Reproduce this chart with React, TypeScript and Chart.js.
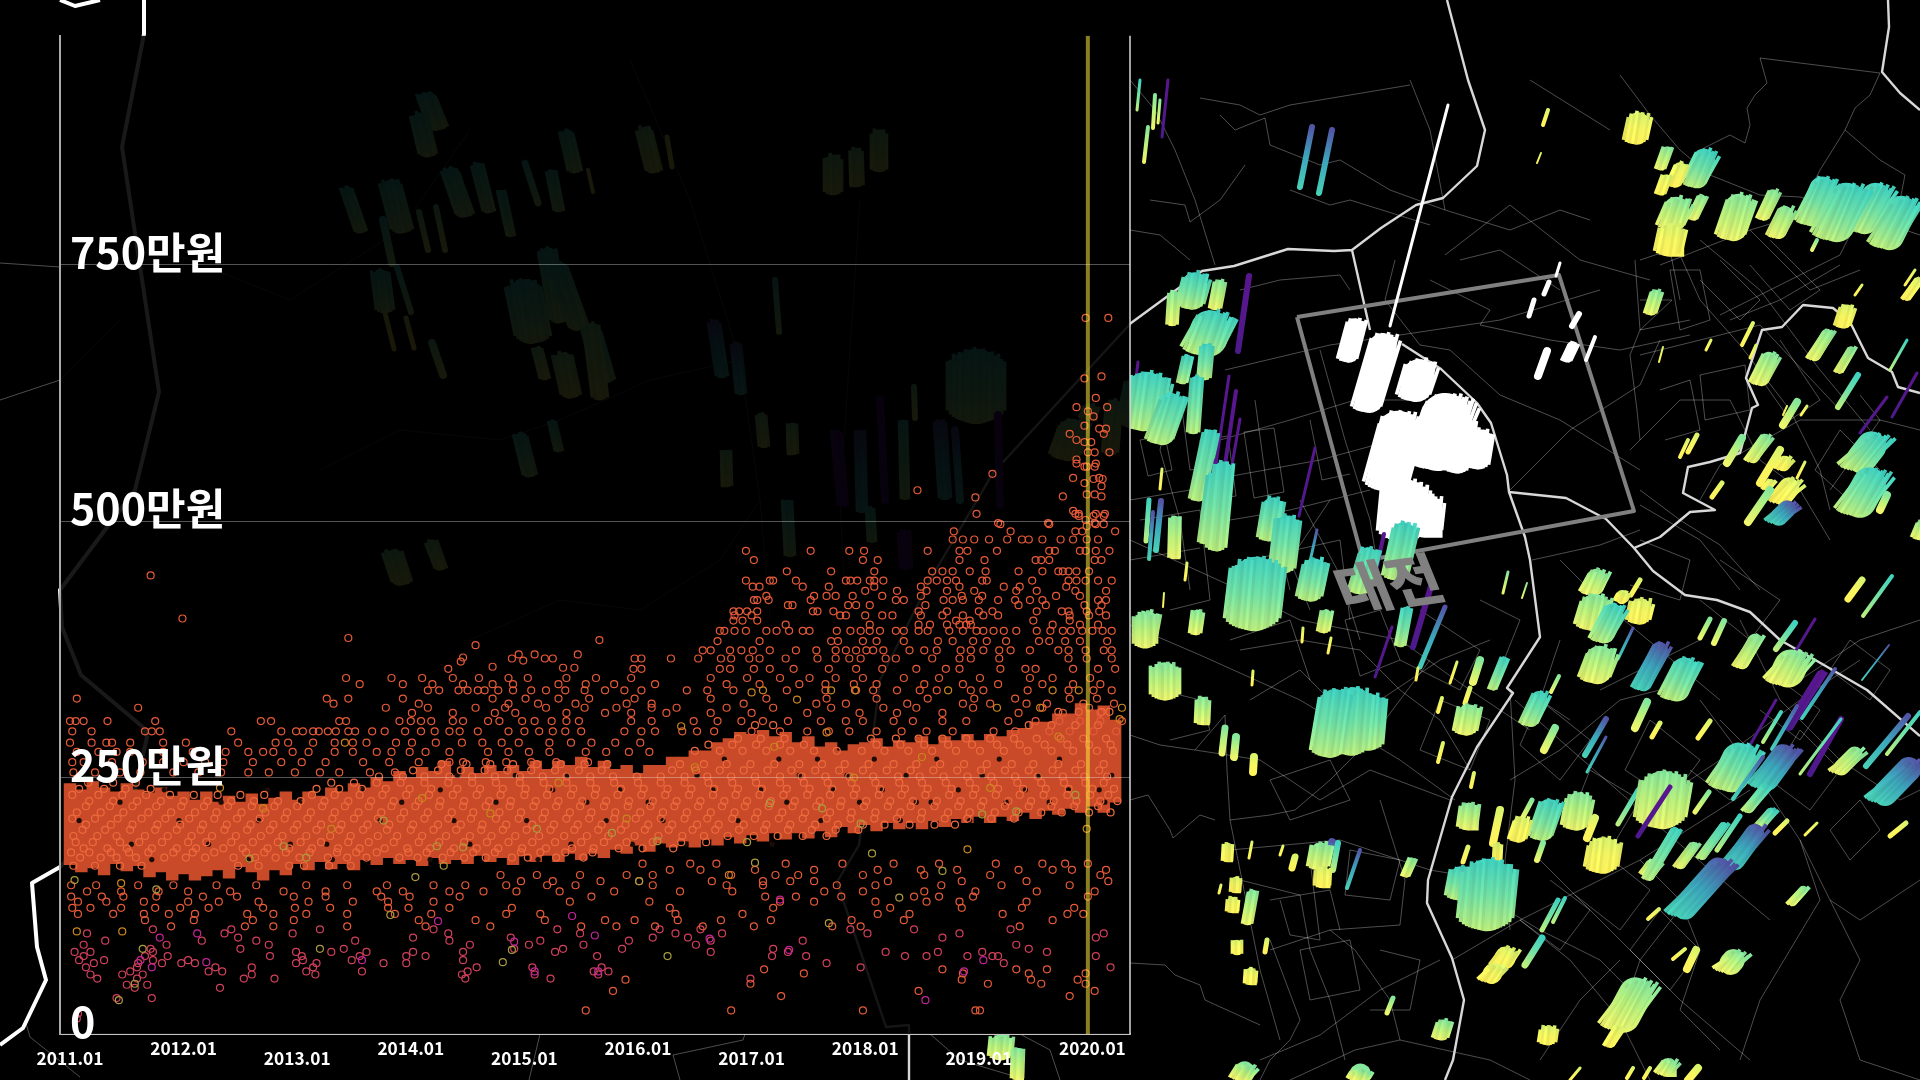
import React, { useEffect, useRef } from "react";
import { Chart, registerables } from "chart.js";

Chart.register(...registerables);

const FONT = '"Noto Sans CJK KR", "Noto Sans", sans-serif';

// ---------- price chart data (x = year, y = 만원 per pyeong) ----------
const xTickYears = [2011, 2012, 2013, 2014, 2015, 2016, 2017, 2018, 2019, 2020];
const xTickLabels = ["2011.01", "2012.01", "2013.01", "2014.01", "2015.01", "2016.01", "2017.01", "2018.01", "2019.01", "2020.01"];
const yTickValues = [0, 250, 500, 750];
const currentMonth = 2019.96;

// dense band of overlapping rings: [year, low, high]
const denseBand = [
  [2011.0, 165, 244], [2011.1, 158, 238], [2011.2, 162, 246], [2011.3, 155, 240], [2011.4, 166, 236], [2011.5, 159, 244], [2011.6, 164, 238], [2011.7, 153, 235], [2011.8, 158, 240], [2011.9, 150, 232],
  [2012.0, 156, 236], [2012.1, 150, 228], [2012.2, 154, 236], [2012.3, 160, 226], [2012.4, 152, 232], [2012.5, 163, 226], [2012.6, 158, 234], [2012.7, 150, 224], [2012.8, 160, 230], [2012.9, 155, 236],
  [2013.0, 166, 228], [2013.1, 160, 236], [2013.2, 168, 232], [2013.3, 161, 240], [2013.4, 166, 236], [2013.5, 160, 244], [2013.6, 170, 240], [2013.7, 165, 250], [2013.8, 172, 246], [2013.9, 166, 256],
  [2014.0, 170, 250], [2014.1, 164, 260], [2014.2, 172, 256], [2014.3, 166, 266], [2014.4, 170, 252], [2014.5, 166, 260], [2014.6, 174, 254], [2014.7, 168, 262], [2014.8, 172, 256], [2014.9, 165, 262],
  [2015.0, 174, 256], [2015.1, 168, 266], [2015.2, 174, 258], [2015.3, 168, 266], [2015.4, 176, 262], [2015.5, 170, 270], [2015.6, 176, 260], [2015.7, 172, 266], [2015.8, 180, 258], [2015.9, 176, 262],
  [2016.0, 184, 254], [2016.1, 178, 262], [2016.2, 186, 262], [2016.3, 182, 270], [2016.4, 188, 270], [2016.5, 182, 276], [2016.6, 190, 276], [2016.7, 184, 284], [2016.8, 192, 288], [2016.9, 186, 294],
  [2017.0, 194, 292], [2017.1, 188, 296], [2017.2, 196, 290], [2017.3, 190, 294], [2017.4, 196, 284], [2017.5, 191, 290], [2017.6, 198, 280], [2017.7, 192, 284], [2017.8, 202, 276], [2017.9, 196, 282],
  [2018.0, 204, 284], [2018.1, 198, 288], [2018.2, 206, 280], [2018.3, 200, 286], [2018.4, 206, 284], [2018.5, 200, 290], [2018.6, 208, 282], [2018.7, 202, 290], [2018.8, 210, 286], [2018.9, 206, 292],
  [2019.0, 212, 286], [2019.1, 206, 292], [2019.2, 212, 290], [2019.3, 208, 296], [2019.4, 216, 298], [2019.5, 210, 304], [2019.6, 218, 304], [2019.7, 214, 312], [2019.8, 220, 312], [2019.9, 216, 322],
  [2020.0, 222, 316], [2020.1, 216, 320], [2020.2, 226, 306],
];

// darker gaps left between the overlapping rings: [price, years offset from 2000]
const bandGaps = [
  [170, [11.72, 12.57, 13.31, 14.17, 15.12]],
  [185, [11.54, 12.22, 12.94, 13.26, 14.52, 15.41, 15.95, 16.42, 17.18]],
  [208, [11.08, 11.96, 12.66, 13.73, 14.38, 15.02, 15.72, 16.22, 16.88, 17.61, 18.31, 18.92]],
  [226, [11.44, 12.33, 13.02, 13.92, 14.75, 15.55, 16.09, 17.31, 17.95, 18.45, 18.58, 19.24, 19.62, 20.11]],
  [238, [11.83, 12.74, 13.58, 14.26, 15.25, 15.84, 16.66, 17.08, 17.72, 18.15, 18.82, 19.41, 19.79, 20.06]],
  [252, [14.41, 14.92, 15.38, 16.52, 17.42, 17.84, 18.36, 19.03, 19.53, 20.17]],
  [268, [16.76, 17.24, 17.58, 18.08, 18.63, 19.18, 19.71]],
];

// rings that stand out inside the dense band: [price, years offset from 2000]
const bandRows = [
  [164, [11.03, 11.22, 11.44, 11.63, 12.48, 12.66, 12.93, 13.06, 13.28, 13.47]],
  [172, [11.09, 11.27, 11.41, 11.58, 11.83, 12.02, 12.19, 12.44, 12.63, 12.81, 13.02, 13.27, 13.44, 13.61, 13.9, 14.06, 14.28, 14.47, 14.66, 14.89, 15.03, 15.28, 15.52]],
  [177, [11.01, 11.17, 11.36, 11.52, 11.69, 11.91, 12.08, 12.27, 12.55, 12.71, 12.9, 13.11, 13.35, 13.52, 13.7, 13.98, 14.14, 14.35, 14.55, 14.74, 14.97, 15.14, 15.36, 15.6]],
  [181, [11.12, 11.33, 11.5, 11.72, 11.94, 12.11, 12.35, 12.52, 12.74, 12.93, 13.13, 13.36, 13.55, 13.77, 13.97, 14.17, 14.38, 14.58, 14.77, 14.98, 15.19, 15.42, 15.61, 15.83, 16.04, 16.31]],
  [187, [11.05, 11.2, 11.44, 11.61, 11.81, 12.04, 12.2, 12.42, 12.61, 12.83, 13.03, 13.21, 13.45, 13.63, 13.85, 14.07, 14.25, 14.47, 14.67, 14.86, 15.07, 15.27, 15.5, 15.7, 15.9, 16.13, 16.38, 16.6]],
  [193, [11.03, 11.24, 11.41, 11.66, 11.86, 12.07, 12.25, 12.46, 12.68, 12.87, 13.08, 13.29, 13.47, 13.71, 13.88, 14.1, 14.31, 14.52, 14.71, 14.92, 15.13, 15.35, 15.55, 15.74, 15.97, 16.18, 16.39, 16.58, 16.79, 17.02, 17.23, 17.45, 17.66]],
  [199, [11.11, 11.31, 11.53, 11.75, 11.94, 12.15, 12.36, 12.56, 12.76, 12.97, 13.17, 13.37, 13.58, 13.79, 14.0, 14.2, 14.4, 14.62, 14.81, 15.02, 15.23, 15.44, 15.65, 15.85, 16.06, 16.27, 16.48, 16.68, 16.89, 17.11, 17.32, 17.53, 17.74, 17.94]],
  [204, [11.14, 11.36, 11.55, 11.77, 11.97, 12.17, 12.38, 12.59, 12.79, 13.0, 13.21, 13.39, 13.62, 13.81, 14.02, 14.24, 14.44, 14.63, 14.84, 15.07, 15.26, 15.47, 15.68, 15.89, 16.09, 16.3, 16.52, 16.71, 16.93, 17.13, 17.34, 17.56, 17.76, 17.98, 18.17, 18.39, 18.61, 18.79]],
  [210, [11.02, 11.22, 11.42, 11.63, 11.84, 12.05, 12.27, 12.47, 12.67, 12.89, 13.09, 13.31, 13.5, 13.71, 13.91, 14.12, 14.33, 14.53, 14.75, 14.95, 15.16, 15.37, 15.57, 15.79, 15.98, 16.2, 16.41, 16.61, 16.83, 17.03, 17.24, 17.45, 17.66, 17.87, 18.08, 18.28, 18.49, 18.7, 18.9, 19.11, 19.31]],
  [216, [11.06, 11.27, 11.47, 11.69, 11.89, 12.1, 12.29, 12.51, 12.72, 12.91, 13.12, 13.33, 13.54, 13.74, 13.94, 14.15, 14.36, 14.55, 14.78, 14.97, 15.18, 15.4, 15.59, 15.8, 16.02, 16.22, 16.43, 16.64, 16.85, 17.05, 17.27, 17.47, 17.69, 17.88, 18.09, 18.31, 18.5, 18.73, 18.92, 19.14, 19.35, 19.55, 19.73, 19.97, 20.16]],
  [222, [11.14, 11.35, 11.55, 11.76, 11.98, 12.18, 12.39, 12.6, 12.8, 13.0, 13.22, 13.42, 13.63, 13.83, 14.04, 14.25, 14.46, 14.66, 14.87, 15.08, 15.28, 15.49, 15.7, 15.91, 16.11, 16.32, 16.53, 16.74, 16.94, 17.15, 17.36, 17.57, 17.78, 17.99, 18.2, 18.4, 18.61, 18.82, 19.02, 19.23, 19.44, 19.64, 19.84, 20.05]],
  [227, [11.17, 11.38, 11.59, 11.8, 12.0, 12.21, 12.42, 12.62, 12.83, 13.03, 13.24, 13.45, 13.65, 13.85, 14.07, 14.26, 14.47, 14.69, 14.88, 15.1, 15.3, 15.51, 15.72, 15.92, 16.13, 16.34, 16.55, 16.76, 16.96, 17.17, 17.38, 17.6, 17.79, 18.01, 18.22, 18.42, 18.63, 18.84, 19.04, 19.26, 19.46, 19.66, 19.86, 20.07, 20.22]],
  [233, [11.02, 11.25, 11.46, 11.67, 11.88, 12.09, 12.3, 12.5, 12.71, 13.13, 13.33, 13.55, 13.75, 13.96, 14.16, 14.37, 14.58, 14.79, 15.0, 15.2, 15.41, 15.62, 15.82, 16.03, 16.24, 16.45, 16.66, 16.86, 17.07, 17.28, 17.49, 17.69, 17.9, 18.12, 18.32, 18.53, 18.74, 18.95, 19.15, 19.36, 19.57, 19.78, 19.98, 20.14]],
  [239, [11.08, 11.3, 11.49, 11.71, 13.17, 13.37, 13.57, 13.78, 13.99, 14.18, 14.41, 14.61, 14.81, 15.01, 15.22, 15.43, 15.63, 15.85, 16.05, 16.26, 16.47, 16.67, 16.88, 17.09, 17.31, 17.51, 17.71, 17.92, 18.13, 18.35, 18.55, 18.76, 18.97, 19.17, 19.39, 19.59, 19.79, 20.0, 20.19]],
  [245, [11.16, 11.38, 11.58, 13.3, 13.5, 13.7, 13.91, 14.12, 14.33, 14.54, 14.75, 14.96, 15.17, 15.37, 15.58, 15.79, 16.0, 16.2, 16.41, 16.62, 16.83, 17.04, 17.25, 17.46, 17.67, 17.88, 18.09, 18.3, 18.5, 18.71, 18.92, 19.13, 19.34, 19.55, 19.75, 19.94, 20.1]],
  [251, [13.72, 13.93, 14.12, 14.34, 14.54, 14.74, 14.96, 15.16, 15.37, 15.58, 15.78, 15.99, 16.2, 16.41, 16.61, 16.82, 17.03, 17.25, 17.44, 17.65, 17.86, 18.07, 18.29, 18.48, 18.69, 18.9, 19.11, 19.32, 19.52, 19.74, 19.93, 20.13]],
  [257, [14.02, 14.24, 14.44, 14.65, 14.85, 15.06, 15.27, 15.48, 15.68, 16.3, 16.51, 16.72, 16.93, 17.14, 17.35, 17.56, 17.77, 17.98, 18.19, 18.4, 18.6, 18.81, 19.02, 19.23, 19.44, 19.65, 19.85, 20.06]],
  [263, [14.27, 14.49, 14.7, 14.9, 15.11, 15.32, 15.53, 15.73, 16.37, 16.58, 16.78, 16.99, 17.2, 17.42, 17.62, 17.82, 18.03, 18.25, 18.45, 18.66, 18.87, 19.07, 19.29, 19.48, 19.7, 19.9, 20.1]],
  [276, [16.5, 16.72, 16.92, 17.13, 17.34, 17.55, 17.75, 17.97, 18.17, 18.38, 18.59, 18.8, 19.01, 19.22, 19.43, 19.64, 19.83, 20.04, 20.18]],
  [282, [16.62, 16.83, 17.04, 17.25, 17.46, 18.1, 18.31, 18.52, 18.73, 18.94, 19.16, 19.36, 19.58, 19.78, 19.97, 20.16]],
  [288, [16.88, 17.08, 17.29, 18.05, 18.27, 18.47, 18.68, 18.89, 19.1, 19.31, 19.51, 19.72, 19.92, 20.12]],
  [301, [17.03, 17.19, 19.44, 19.64, 19.85, 20.05]],
  [314, [19.7, 19.88, 20.08, 20.15]],
];

// isolated high-price rings: [year, price]
const topRings = [
  [2019.94, 698], [2020.14, 698], [2019.93, 639], [2020.08, 641], [2020.03, 620], [2019.86, 611], [2020.13, 611], [2019.96, 607], [2020.01, 602], [2019.93, 593],
  [2020.06, 590], [2020.12, 590], [2020.1, 585], [2019.8, 585], [2019.86, 579], [2019.93, 577], [2019.99, 577], [2019.96, 567], [2020.02, 567], [2020.15, 567],
  [2019.86, 560], [2019.86, 556], [2020.03, 556], [2019.93, 553], [2019.95, 553], [2020.02, 553], [2019.12, 546], [2019.83, 542], [2020.01, 541], [2020.06, 542],
  [2020.09, 541], [2019.93, 537], [2020.08, 534], [2018.46, 530], [2019.95, 526], [2020.02, 526], [2020.08, 524], [2019.74, 524], [2018.97, 523], [2018.98, 507],
  [2019.83, 510], [2019.88, 505], [2020.01, 505], [2020.1, 505], [2019.94, 501], [2019.17, 498], [2019.61, 498], [2020.02, 498], [2019.85, 507], [2019.88, 507],
  [2020.03, 507], [2020.11, 507], [2019.19, 497], [2019.62, 497], [2019.95, 495], [2020.03, 497], [2020.1, 497], [2018.78, 490], [2019.28, 490], [2019.85, 490], [2019.91, 490], [2020.2, 490],
  [2018.77, 482], [2018.86, 482], [2018.96, 482], [2019.09, 482], [2019.25, 482], [2019.38, 482], [2019.44, 482], [2019.56, 482], [2019.72, 482], [2019.83, 482], [2019.95, 482], [2020.05, 482],
  [2011.71, 447], [2011.99, 405], [2013.45, 386], [2014.57, 379], [2015.66, 384], [2014.33, 356], [2014.46, 367], [2014.44, 363],
  [2014.89, 366], [2014.95, 370], [2014.99, 364], [2015.09, 370], [2015.18, 366], [2015.25, 366], [2015.47, 370], [2014.72, 358], [2015.34, 357], [2015.44, 357],
];

// orange rings read row by row: [price, years offset from 2000]
const orangeRows = [
  [471, [16.95, 17.52, 17.86, 17.99, 18.55, 18.83, 18.9, 19.16, 19.62, 19.67, 19.89, 19.94, 20.03, 20.15]],
  [462, [17.02, 17.98, 18.11, 18.83, 19.05, 19.5, 19.55, 19.62, 20.02, 20.08]],
  [451, [17.31, 17.7, 18.08, 18.59, 18.68, 18.77, 18.92, 19.06, 19.35, 19.56, 19.7, 19.74, 19.79, 19.86, 19.97]],
  [442, [16.95, 17.16, 17.19, 17.39, 17.83, 17.87, 17.93, 18.04, 18.08, 18.16, 18.55, 18.63, 18.72, 18.8, 19.03, 19.07, 19.47, 19.79, 19.86, 19.94, 20.05, 20.17]],
  [436, [17.01, 17.07, 17.45, 17.68, 18.08, 18.49, 18.83, 19.22, 19.36, 19.77]],
  [432, [18.0, 18.28, 18.54, 18.72, 18.96, 19.33, 19.51, 19.85, 20.12]],
  [427, [17.13, 17.55, 17.66, 17.74, 17.89, 18.15, 18.49, 18.85, 19.03, 19.68, 19.89]],
  [423, [17.02, 17.05, 17.15, 17.52, 18.27, 18.34, 18.69, 18.77, 18.86, 19.0, 19.17, 19.32, 19.45, 19.56, 20.05, 20.12]],
  [418, [17.32, 17.36, 17.85, 17.92, 18.04, 18.53, 19.35, 19.59, 19.93, 20.08]],
  [412, [16.84, 16.89, 16.96, 17.05, 17.54, 17.58, 17.72, 18.47, 18.72, 19.0, 19.12, 19.51, 19.73, 19.79, 19.95, 20.06]],
  [408, [16.85, 17.0, 17.78, 17.83, 18.0, 18.15, 18.24, 18.49, 18.68, 18.86, 19.04, 19.17, 19.8, 19.97, 20.12]],
  [403, [16.84, 16.92, 17.05, 18.8, 18.92, 19.48, 19.8]],
  [399, [17.3, 18.04, 18.47, 18.57, 18.72, 18.83, 18.89, 18.93, 19.65, 19.89, 20.05]],
  [393, [16.72, 16.76, 16.85, 16.95, 17.13, 17.22, 17.33, 17.45, 17.51, 17.75, 17.87, 17.96, 18.04, 18.13, 18.27, 18.34, 18.47, 18.55, 18.74, 18.86, 18.98, 19.04, 19.13, 19.22, 19.33, 19.51, 19.63, 19.74, 19.81, 19.91, 20.0, 20.09, 20.17]],
  [383, [16.7, 17.07, 17.7, 17.76, 17.98, 18.1, 18.34, 18.64, 18.77, 18.95, 19.07, 19.24, 19.53, 19.62, 19.76, 19.89, 20.13]],
  [374, [16.57, 16.64, 16.81, 16.91, 17.01, 17.16, 17.39, 17.57, 17.74, 17.83, 17.92, 18.01, 18.07, 18.16, 18.39, 18.52, 18.63, 18.84, 18.93, 19.04, 19.18, 19.28, 19.45, 19.7, 19.79, 19.94, 20.1, 20.17]],
  [366, [15.97, 16.03, 16.29, 16.53, 16.73, 16.82, 16.98, 17.07, 17.3, 17.58, 17.74, 17.86, 17.96, 18.27, 18.18, 18.59, 18.83, 18.93, 19.18, 19.79, 19.95, 20.17]],
  [356, [15.96, 16.03, 16.72, 16.81, 17.02, 17.16, 17.37, 17.68, 17.92, 18.15, 18.45, 18.71, 18.83, 19.19, 19.41, 19.5, 19.83, 20.05, 20.2]],
  [347, [13.43, 13.83, 14.1, 14.37, 14.6, 14.86, 15.03, 15.37, 15.63, 15.94, 16.64, 16.96, 17.25, 17.51, 17.74, 17.98, 18.34, 18.65, 19.01, 19.45, 19.65, 19.98]],
  [341, [13.55, 13.93, 14.19, 14.46, 14.72, 14.9, 15.3, 15.54, 15.79, 16.15, 16.78, 17.07, 17.42, 17.65, 17.9, 18.1, 18.52, 18.86, 19.17, 19.56, 19.83, 20.07]],
  [335, [14.15, 14.25, 14.42, 14.5, 14.59, 14.65, 14.77, 14.9, 15.06, 15.19, 15.36, 15.53, 15.71, 15.88, 16.03, 16.43, 16.61, 16.84, 17.31, 17.65, 17.92, 18.07, 18.28, 18.48, 18.63, 18.93, 19.04, 19.43, 19.79, 20.01, 20.17]],
  [327, [11.06, 13.26, 13.45, 13.93, 14.72, 15.01, 15.3, 15.57, 15.97, 16.64, 17.13, 17.66, 18.1, 18.55, 18.96, 19.32, 19.8, 20.04]],
  [322, [13.32, 14.07, 14.86, 15.12, 15.45, 15.9, 16.12, 16.93, 17.57, 17.83, 18.37, 18.86, 19.1, 19.42, 19.6, 19.92, 20.19]],
  [318, [11.6, 13.78, 14.15, 14.57, 14.83, 15.19, 15.53, 15.81, 16.12, 16.34, 16.78, 17.19, 17.7, 18.16, 18.45, 18.95, 19.56, 19.97]],
  [313, [14.01, 14.37, 14.74, 14.92, 15.37, 15.71, 15.94, 16.25, 16.64, 17.0, 17.49, 17.95, 18.28, 18.68, 19.35, 19.74, 20.07]],
  [305, [11.0, 11.05, 11.12, 11.33, 11.75, 12.68, 12.77, 13.37, 13.43, 13.9, 14.0, 14.09, 14.18, 14.37, 14.46, 14.68, 14.78, 14.98, 15.09, 15.24, 15.37, 15.48, 15.94, 16.12, 16.49, 16.7, 16.91, 17.1, 17.32, 17.61, 17.83, 17.98, 18.25, 18.42, 18.68, 18.89, 19.26, 19.5, 19.71, 19.89, 20.07, 20.26]],
  [295, [11.02, 11.19, 11.66, 11.72, 11.79, 12.42, 12.86, 12.99, 13.05, 13.14, 13.19, 13.27, 13.34, 13.45, 13.51, 13.66, 13.77, 13.95, 14.09, 14.21, 14.34, 14.43, 14.59, 14.86, 15.0, 15.13, 15.25, 15.36, 15.5, 15.88, 16.03, 16.15, 16.39, 16.52, 16.67, 17.0, 17.25, 17.49, 17.68, 17.86, 18.1, 18.32, 18.54, 18.77, 19.13, 19.32, 19.62, 19.8, 20.01, 20.21]],
  [284, [11.0, 11.19, 11.32, 11.37, 11.53, 11.82, 12.02, 12.48, 12.81, 12.92, 13.14, 13.33, 13.49, 13.61, 13.87, 14.01, 14.22, 14.45, 14.63, 14.8, 14.95, 15.22, 15.41, 15.59, 15.8, 16.02]],
  [275, [11.06, 11.25, 11.41, 11.53, 11.82, 12.08, 12.37, 12.57, 12.7, 12.79, 12.96, 13.1, 13.33, 13.49, 13.7, 13.83, 13.99, 14.13, 14.34, 14.68, 14.86, 15.04, 15.22, 15.54, 15.72, 15.92, 16.1]],
  [265, [11.02, 11.12, 11.37, 11.64, 11.82, 12.0, 12.19, 12.35, 12.61, 12.86, 13.04, 13.25, 13.58, 13.81, 14.07, 14.34, 14.46, 14.66, 14.84, 15.06, 15.28, 15.56]],
  [255, [11.03, 11.22, 11.44, 11.62, 11.91, 12.13, 12.33, 12.57, 12.75, 12.98, 13.2, 13.37, 13.64, 13.86]],
  [166, [16.04, 16.46, 16.69, 17.3, 17.8, 18.25, 18.65, 19.15, 19.56, 19.76, 19.96]],
  [160, [16.28, 16.55, 17.03, 17.55, 18.11, 18.49, 18.81, 19.35, 19.65, 19.82, 20.12]],
  [155, [14.79, 15.11, 15.49, 15.9, 16.13, 16.82, 17.21, 17.41, 17.98, 18.52, 19.1, 20.07]],
  [149, [14.97, 15.25, 15.67, 16.01, 16.65, 17.1, 17.34, 17.55, 18.2, 18.85, 19.42, 20.14]],
  [145, [11.01, 11.23, 11.6, 11.91, 12.29, 12.64, 13.08, 13.44, 13.79, 14.2, 14.48, 14.84, 15.2, 15.45, 16.13, 16.78, 17.1, 17.75, 18.09, 18.67, 19.2, 19.8]],
  [139, [11.15, 11.45, 11.78, 12.04, 12.41, 12.88, 13.25, 13.7, 13.93, 14.34, 14.64, 14.93, 15.31, 15.79, 16.37, 16.83, 17.64, 17.98, 18.52, 18.97, 19.51, 20.02]],
  [134, [11.01, 11.28, 11.47, 11.76, 12.17, 12.47, 12.97, 13.25, 13.74, 13.99, 14.43, 15.59, 17.12, 17.39, 17.79, 18.43, 18.65, 18.95, 19.96]],
  [129, [11.07, 11.32, 11.65, 12.04, 12.31, 12.66, 13.1, 13.49, 13.8, 14.2, 15.4, 16.1, 17.25, 17.55, 18.09, 18.54, 18.83, 19.42]],
  [123, [11.02, 11.18, 11.45, 11.75, 11.97, 12.22, 12.7, 12.98, 13.29, 13.8, 13.98, 14.34, 14.89, 16.28, 17.19, 18.22, 18.85, 19.38, 19.84]],
  [117, [11.07, 11.38, 11.65, 11.87, 12.1, 12.56, 12.79, 13.08, 13.44, 13.86, 14.18, 14.84, 15.14, 16.33, 16.92, 18.11, 18.39, 19.21, 19.78, 19.92]],
  [111, [11.66, 12.09, 12.61, 12.97, 14.07, 14.57, 15.18, 15.71, 15.97, 16.35, 16.73, 17.17, 17.88, 18.34, 19.65]],
  [105, [11.89, 12.54, 12.79, 13.44, 14.13, 14.7, 15.5, 15.81, 16.15, 16.57, 17.02, 17.71, 17.96, 19.36]],
  [63, [17.11, 18.68, 19.33, 19.6]],
  [59, [17.46, 18.86, 19.44, 19.94]],
  [53, [15.89, 18.85, 19.46, 19.87]],
  [49, [16.99, 19.08, 19.55, 19.94]],
  [42, [15.78, 18.47, 20.02]],
  [37, [17.26, 19.8]],
  [23, [15.54, 16.82, 17.98, 18.97, 19.01]],
];

// pink rings in the low-price tail: [price, years offset from 2000]
const pinkRows = [
  [102, [11.73, 12.42, 13.2, 14.2, 15.29, 16.19, 16.55, 17.87, 18.43, 19.28]],
  [98, [11.15, 12.36, 12.96, 14.33, 15.49, 16.33, 16.74, 18.02, 18.83, 20.1]],
  [94, [12.48, 14.02, 14.88, 16.13, 16.44, 18.68, 20.03]],
  [91, [11.31, 12.16, 12.64, 13.51, 14.34, 15.14, 15.92, 16.64, 17.45]],
  [87, [11.12, 11.85, 12.75, 14.52, 15.04, 15.52, 16.51, 19.33]],
  [83, [11.71, 12.5, 13.41, 14.91, 15.34, 15.86, 17.19, 19.44]],
  [80, [11.04, 11.18, 11.73, 12.99, 13.3, 13.61, 14.02, 14.46, 15.27, 16.64, 17.32, 18.18, 18.64, 19.03, 19.6]],
  [76, [11.12, 11.66, 11.86, 12.76, 13.04, 13.55, 13.96, 14.13, 15.64, 17.18, 17.48, 18.35, 18.54, 18.9, 19.12, 19.17, 20.03]],
  [72, [11.08, 11.3, 11.73, 12.04, 13.05, 13.48, 14.46]],
  [69, [11.21, 11.6, 11.81, 11.98, 12.1, 12.99, 13.17, 13.76, 13.96, 17.66, 19.22]],
  [65, [11.14, 11.59, 12.28, 12.6, 13.14, 14.58, 15.07, 15.68, 17.96, 20.16]],
  [61, [11.53, 12.22, 12.34, 13.08, 13.57, 14.5, 15.61, 15.74]],
  [58, [11.18, 11.46, 11.64, 12.6, 13.16, 14.45, 15.09, 15.65]],
  [54, [11.24, 11.59, 12.53, 12.8, 14.48, 15.23, 16.99]],
  [48, [11.5, 11.68]],
  [45, [11.57, 12.32]],
  [35, [11.41, 11.72]],
  [20, [11.07]],
  [15, [11.06]],
];

const magentaRings = [
  [2012.12, 98], [2011.79, 94], [2011.62, 72], [2011.72, 65], [2012.2, 70], [2014.24, 110], [2013.57, 72], [2014.91, 90], [2015.42, 115], [2015.62, 96], [2015.09, 61],
  [2015.65, 61], [2016.63, 93], [2017.25, 131], [2017.33, 82], [2018.87, 61], [2019.04, 72], [2018.53, 33],
];
const oliveRings = [
  [2011.04, 150], [2011.76, 141], [2011.64, 83], [2011.57, 49], [2011.43, 33], [2013.2, 83], [2013.82, 116], [2014.04, 153], [2014.29, 164], [2012.88, 183], [2012.58, 171],
  [2013.08, 172], [2013.76, 208], [2014.23, 183], [2014.46, 182], [2014.89, 82], [2014.81, 70], [2016.26, 76], [2017.68, 108], [2018.3, 133], [2018.68, 159], [2017.03, 167],
  [2016.01, 149], [2015.11, 200], [2015.77, 196], [2016.17, 188], [2019.85, 233], [2019.03, 214], [2019.33, 217], [2017.16, 225], [2017.62, 220], [2017.96, 205], [2018.06, 176], [2016.96, 187],
];
const amberRings = [
  [2011.45, 147], [2011.06, 100], [2011.46, 100], [2013.42, 284], [2017.91, 335], [2017.0, 333], [2017.1, 335], [2017.7, 335], [2017.4, 326], [2018.73, 335], [2019.65, 335],
  [2019.88, 335], [2020.26, 318], [2020.24, 307], [2016.38, 300], [2017.66, 294], [2019.16, 318], [2019.54, 318], [2012.32, 240], [2012.7, 220], [2013.3, 200], [2014.1, 230],
  [2014.7, 215], [2015.3, 245], [2015.9, 210], [2016.5, 260], [2017.2, 280], [2017.9, 250], [2018.5, 270], [2019.1, 240], [2019.7, 290], [2018.9, 180], [2016.8, 155], [2019.95, 200],
];

// ---------- map data (map grid units, x east, y south) ----------
const mainRoads = [
  [[1447, 0], [1468, 80], [1485, 130], [1477, 166], [1443, 198], [1416, 205], [1381, 228], [1352, 250], [1334, 251], [1288, 249], [1234, 266], [1202, 271], [1131, 323], [993, 473], [930, 580], [880, 680], [859, 845], [837, 882], [886, 1027], [909, 1025], [909, 1080]],
  [[1352, 250], [1370, 330]],
  [[1402, 344], [1441, 369], [1477, 403], [1491, 423], [1507, 475], [1509, 492], [1525, 537], [1530, 560], [1540, 637], [1507, 688], [1513, 693], [1477, 747], [1452, 797], [1428, 880], [1427, 903], [1452, 958], [1464, 1000], [1453, 1060], [1445, 1080]],
  [[1509, 492], [1566, 498], [1606, 519], [1634, 548], [1653, 571], [1685, 595], [1717, 600], [1750, 612], [1780, 640], [1817, 661], [1867, 690], [1920, 736]],
  [[1634, 548], [1660, 537], [1690, 512], [1715, 510], [1683, 493], [1688, 467], [1710, 462], [1740, 453], [1747, 427], [1752, 408], [1758, 405], [1746, 378], [1762, 330], [1782, 327], [1803, 305], [1833, 308], [1850, 322], [1868, 358], [1892, 372], [1898, 387], [1920, 393]],
  [[1888, 0], [1889, 27], [1882, 72], [1900, 93], [1920, 110]],
];
const boldRoads = [
  [[0, 1045], [23, 1028], [46, 980], [37, 947], [32, 883], [60, 867]],
  [[144, 0], [144, 34], [122, 147], [159, 392], [135, 490], [60, 590], [62, 627], [81, 675], [144, 728], [147, 737], [135, 790], [70, 857], [60, 867]],
  [[60, 0], [75, 6], [100, 0]],
];
const studyArea = [[1297, 317], [1559, 275], [1634, 511], [1363, 561], [1297, 317]];
const streets = [
  [[1130, 735], [1160, 745], [1195, 750], [1225, 715], [1227, 770], [1230, 820], [1240, 870], [1260, 970], [1280, 1040]],
  [[1130, 800], [1148, 795], [1170, 830], [1173, 838], [1200, 815], [1215, 820]],
  [[1130, 963], [1165, 965], [1175, 975], [1200, 985], [1205, 1000], [1260, 1025]],
  [[1195, 750], [1260, 760], [1320, 800], [1370, 770], [1450, 800]],
  [[1230, 820], [1270, 815], [1295, 810], [1330, 780], [1370, 740], [1400, 700], [1430, 660]],
  [[1130, 625], [1200, 655], [1300, 700], [1400, 760], [1455, 800]],
  [[1230, 850], [1340, 840], [1430, 870], [1460, 875]],
  [[1240, 880], [1300, 895], [1310, 950], [1330, 1000], [1345, 1060]],
  [[1310, 860], [1320, 940], [1290, 935], [1280, 900]],
  [[1270, 950], [1330, 930], [1400, 925], [1405, 880], [1380, 800]],
  [[1270, 940], [1300, 1020], [1290, 1040], [1270, 1060], [1260, 1080]],
  [[1440, 960], [1380, 990], [1320, 1035], [1260, 1060]],
  [[1452, 960], [1520, 920], [1640, 860], [1750, 790]],
  [[1290, 1080], [1355, 1050], [1400, 1040], [1490, 1060], [1530, 1080]],
  [[1400, 1040], [1390, 1000], [1355, 950], [1330, 930]],
  [[1130, 540], [1240, 590], [1300, 620], [1400, 640], [1470, 690], [1530, 730]],
  [[1240, 650], [1300, 640], [1360, 650], [1400, 690], [1440, 720], [1470, 770]],
  [[1510, 690], [1515, 780], [1505, 860], [1510, 930]],
  [[1510, 780], [1560, 750], [1620, 700], [1660, 690]],
  [[1515, 700], [1560, 740], [1640, 810], [1710, 870], [1770, 920]],
  [[1540, 860], [1600, 920], [1680, 1000], [1750, 1060]],
  [[1490, 900], [1540, 930], [1600, 960], [1640, 1000]],
  [[1520, 920], [1570, 960], [1620, 1020], [1650, 1080]],
  [[1710, 870], [1640, 960], [1620, 1020]],
  [[1640, 860], [1680, 900], [1700, 950], [1680, 1010], [1720, 1050]],
  [[1760, 58], [1880, 73]],
  [[1760, 58], [1767, 83], [1755, 95], [1747, 108], [1750, 125], [1745, 143], [1730, 135], [1700, 150]],
  [[1880, 73], [1870, 95], [1855, 108], [1845, 130], [1820, 170], [1810, 190]],
  [[1845, 130], [1880, 160], [1905, 175], [1900, 200]],
  [[1620, 75], [1650, 115], [1680, 150], [1710, 175], [1760, 195], [1800, 197], [1860, 215], [1920, 235]],
  [[1660, 265], [1750, 230], [1800, 215]],
  [[1680, 255], [1700, 300], [1740, 345], [1790, 410], [1820, 470], [1830, 510]],
  [[1700, 240], [1760, 290], [1820, 370], [1870, 430]],
  [[1750, 230], [1810, 290], [1860, 270]],
  [[1640, 355], [1700, 340], [1760, 325], [1840, 410]],
  [[1620, 350], [1690, 335]],
  [[1635, 260], [1640, 330], [1630, 355], [1637, 410], [1640, 440]],
  [[1840, 265], [1780, 300], [1730, 320]],
  [[1860, 215], [1840, 255], [1790, 280], [1720, 315]],
  [[1700, 500], [1720, 465], [1800, 420], [1880, 420], [1920, 430]],
  [[1630, 450], [1680, 400], [1730, 400], [1760, 460], [1800, 490], [1830, 540]],
  [[1830, 490], [1880, 420], [1860, 395]],
  [[1640, 490], [1680, 520], [1720, 545], [1760, 590]],
  [[1130, 80], [1155, 110], [1175, 150], [1195, 200], [1215, 265]],
  [[1200, 98], [1240, 105], [1260, 115], [1290, 105], [1410, 85]],
  [[1220, 115], [1235, 130], [1265, 118], [1270, 145], [1320, 165], [1340, 160], [1390, 190], [1445, 210]],
  [[1150, 200], [1185, 205], [1190, 222], [1220, 200], [1245, 165]],
  [[1130, 230], [1160, 235], [1190, 260]],
  [[1290, 190], [1330, 205], [1350, 200], [1430, 225]],
  [[1410, 80], [1430, 130], [1445, 210], [1510, 230], [1560, 210], [1590, 220]],
  [[1530, 80], [1570, 105], [1610, 130]],
  [[1445, 255], [1510, 205], [1580, 260], [1650, 280]],
  [[1240, 290], [1280, 280], [1340, 275], [1350, 290]],
  [[1225, 370], [1330, 345], [1400, 335], [1500, 320], [1600, 290]],
  [[1395, 260], [1385, 300], [1420, 345], [1450, 350], [1500, 395], [1560, 420], [1640, 470]],
  [[1430, 280], [1490, 310], [1480, 325], [1550, 340], [1620, 350]],
  [[1460, 260], [1500, 250], [1560, 290]],
  [[1320, 350], [1345, 440], [1370, 520], [1380, 580]],
  [[1290, 420], [1355, 400], [1420, 400]],
  [[1220, 440], [1290, 420]],
  [[1210, 480], [1320, 460], [1375, 445]],
  [[1300, 500], [1340, 575], [1360, 640]],
  [[1230, 520], [1290, 510], [1370, 490]],
  [[1510, 490], [1570, 430], [1640, 385], [1660, 340]],
  [[1255, 400], [1270, 510], [1290, 590]],
  [[1532, 560], [1600, 545], [1640, 530]],
  [[1640, 505], [1700, 540], [1740, 590]],
  [[1800, 680], [1860, 640], [1920, 620]],
  [[1740, 620], [1780, 700], [1840, 760], [1900, 800]],
  [[1700, 700], [1760, 780], [1800, 840], [1830, 900], [1860, 920], [1920, 880]],
  [[1660, 800], [1720, 760], [1800, 700], [1860, 660]],
  [[1800, 840], [1820, 900], [1790, 950], [1760, 1000], [1740, 1060]],
  [[1830, 900], [1860, 960], [1840, 1000], [1860, 1060], [1920, 1080]],
  [[1900, 800], [1920, 790]],
  [[1600, 690], [1640, 670], [1700, 640]],
  [[1620, 960], [1580, 1000], [1540, 1060]],
  [[1150, 400], [1180, 395], [1190, 470], [1230, 465]],
  [[1140, 520], [1200, 510], [1210, 600], [1170, 610]],
  [[1170, 400], [1160, 450], [1180, 520], [1190, 590]],
  [[1250, 560], [1340, 540], [1350, 620]],
  [[1230, 640], [1290, 620], [1310, 680]],
  [[1560, 560], [1600, 600], [1660, 650], [1720, 700]],
  [[1560, 640], [1540, 700], [1570, 720]],
  [[1380, 700], [1440, 660], [1490, 640]],
  [[1140, 440], [1165, 436], [1172, 470], [1148, 476], [1140, 440]],
  [[1200, 440], [1208, 500], [1236, 496], [1228, 436], [1200, 440]],
  [[1244, 432], [1254, 498], [1284, 492], [1274, 428], [1244, 432]],
  [[1130, 500], [1190, 490]],
  [[1130, 560], [1200, 548]],
  [[1310, 420], [1322, 480], [1350, 474]],
  [[1330, 500], [1290, 560], [1310, 610]],
  [[1345, 620], [1380, 610], [1400, 660], [1360, 676], [1345, 620]],
  [[1420, 610], [1480, 650], [1460, 690], [1400, 660]],
  [[1480, 600], [1520, 620], [1500, 670]],
  [[1440, 700], [1490, 720], [1470, 770], [1420, 750], [1440, 700]],
  [[1250, 700], [1300, 670], [1330, 700]],
  [[1160, 690], [1200, 700], [1210, 730], [1170, 740]],
  [[1270, 780], [1330, 760], [1350, 800], [1290, 820], [1270, 780]],
  [[1350, 850], [1400, 860], [1390, 900], [1345, 895], [1350, 850]],
  [[1270, 900], [1330, 890], [1340, 930]],
  [[1300, 950], [1350, 940], [1360, 990], [1310, 1000], [1300, 950]],
  [[1380, 950], [1420, 960], [1410, 1010], [1370, 1010]],
  [[1540, 700], [1590, 740], [1560, 780], [1520, 745], [1540, 700]],
  [[1590, 770], [1640, 800], [1610, 850], [1570, 820], [1590, 770]],
  [[1650, 720], [1700, 760], [1670, 800], [1625, 770], [1650, 720]],
  [[1720, 720], [1760, 760], [1730, 800], [1690, 770]],
  [[1800, 730], [1840, 770], [1810, 810], [1770, 780], [1800, 730]],
  [[1860, 800], [1880, 830], [1850, 860], [1830, 830], [1860, 800]],
  [[1550, 880], [1590, 910], [1560, 950], [1520, 920]],
  [[1600, 850], [1650, 890], [1620, 930], [1575, 895]],
  [[1660, 910], [1700, 950], [1670, 990], [1630, 950], [1660, 910]],
  [[1850, 640], [1890, 670], [1870, 700], [1830, 670], [1850, 640]],
  [[1780, 680], [1820, 710], [1800, 740], [1760, 710]],
  [[1670, 270], [1700, 270], [1710, 320], [1680, 330], [1670, 270]],
  [[1640, 260], [1670, 250], [1680, 300]],
  [[1720, 260], [1760, 300], [1740, 320], [1700, 280]],
  [[1770, 240], [1820, 290], [1790, 310], [1750, 265]],
  [[1640, 300], [1672, 300], [1640, 330], [1690, 320]],
  [[1700, 375], [1745, 365], [1750, 410], [1705, 420], [1700, 375]],
  [[1660, 390], [1690, 380], [1700, 430], [1665, 440]],
  [[1780, 340], [1820, 400], [1790, 420], [1755, 370]],
  [[1840, 430], [1880, 470], [1860, 510], [1815, 470], [1840, 430]],
  [[1640, 540], [1690, 560], [1680, 600], [1630, 585]],
  [[1720, 560], [1780, 600], [1750, 640], [1700, 600]],
  [[0, 263], [60, 267], [180, 256], [290, 300], [400, 230], [470, 130]],
  [[0, 400], [60, 380], [120, 320]],
  [[320, 470], [400, 430], [500, 440], [560, 420], [650, 380], [740, 360]],
  [[470, 640], [560, 600], [640, 610], [720, 560], [760, 500]],
  [[630, 60], [690, 200], [740, 360], [760, 500], [770, 620]],
  [[860, 200], [840, 500], [850, 700]],
  [[25, 1020], [30, 1037], [80, 1077]],
  [[673, 1055], [743, 1040], [745, 1034]],
  [[673, 1055], [680, 1080]],
  [[529, 1080], [540, 1034]],
  [[930, 1034], [960, 1060], [1010, 1075]],
  [[1020, 1034], [1050, 1050], [1060, 1080]],
];

// extruded building columns: [baseX, baseY, topX, topY, thickness]
const whiteColumns = [
  [1390, 326, 1448, 105, 3], [1347, 362, 1357, 319, 22], [1366, 412, 1386, 334, 32], [1413, 401, 1422, 360, 36], [1431, 469, 1452, 395, 58], [1477, 469, 1482, 430, 26],
  [1456, 473, 1463, 419, 30], [1386, 491, 1402, 412, 48], [1402, 541, 1406, 480, 52], [1424, 537, 1427, 495, 38], [1538, 376, 1547, 351, 8], [1566, 362, 1574, 342, 12],
  [1529, 316, 1534, 300, 5], [1544, 294, 1549, 282, 5], [1572, 326, 1579, 314, 6], [1556, 276, 1560, 263, 3], [1586, 360, 1595, 337, 4],
];
const limeColumns = [
  [1144, 162, 1148, 127, 4], [1153, 128, 1155, 95, 4], [1158, 123, 1160, 100, 3], [1172, 326, 1174, 291, 13], [1590, 595, 1600, 570, 24], [1174, 559, 1175, 516, 13], [1323, 633, 1327, 610, 14],
  [1195, 635, 1198, 610, 14], [1145, 648, 1145, 613, 26], [1165, 700, 1165, 663, 32], [1202, 725, 1203, 697, 16], [1222, 753, 1225, 728, 7], [1234, 757, 1236, 737, 8], [1473, 682, 1480, 660, 8],
  [1465, 735, 1470, 705, 26], [1467, 830, 1470, 803, 22], [1523, 817, 1532, 800, 5], [1575, 830, 1580, 793, 30], [1537, 860, 1543, 843, 6], [1318, 870, 1322, 843, 24], [1405, 877, 1413, 858, 10],
  [1247, 925, 1253, 890, 12], [1387, 1013, 1393, 998, 5], [1440, 1040, 1445, 1020, 18], [1503, 593, 1508, 572, 3], [1522, 598, 1527, 583, 2], [1358, 1080, 1362, 1070, 25], [1590, 630, 1597, 595, 34],
  [1594, 683, 1603, 647, 34], [1551, 692, 1559, 676, 4], [1544, 750, 1555, 728, 8], [1635, 728, 1647, 702, 8], [1700, 638, 1710, 619, 5], [1714, 643, 1724, 621, 6], [1739, 668, 1758, 635, 16],
  [1781, 685, 1798, 652, 38], [1836, 773, 1860, 749, 18], [1660, 828, 1666, 772, 54], [1695, 812, 1709, 792, 5], [1647, 876, 1656, 860, 18], [1678, 868, 1696, 843, 12], [1790, 905, 1806, 887, 10],
  [1724, 972, 1740, 952, 26], [1616, 1030, 1643, 980, 38], [1730, 240, 1742, 195, 32], [1762, 220, 1775, 190, 14], [1775, 238, 1788, 207, 20], [1650, 315, 1657, 290, 14], [1660, 170, 1668, 147, 12],
  [1670, 230, 1680, 198, 30], [1692, 220, 1703, 195, 12], [1758, 385, 1772, 353, 20], [1812, 360, 1830, 330, 14], [1838, 373, 1853, 347, 10], [1783, 425, 1797, 402, 8], [1727, 463, 1742, 438, 8], [1750, 462, 1768, 435, 14],
  [1748, 522, 1770, 490, 8], [1920, 540, 1926, 520, 20], [1880, 510, 1887, 495, 8], [1240, 1080, 1248, 1065, 24], [1145, 640, 1149, 612, 26], [1663, 1075, 1672, 1060, 20],
  [1215, 310, 1220, 280, 14], [1812, 250, 1817, 240, 4],
  // dimmed under the price panel
  [428, 250, 419, 212, 6], [445, 250, 436, 207, 6], [443, 375, 432, 343, 8], [545, 380, 537, 347, 12], [571, 398, 562, 353, 22], [600, 400, 591, 323, 18], [402, 585, 392, 550, 22], [441, 570, 431, 540, 14],
  [833, 195, 833, 155, 20], [857, 187, 856, 148, 15], [879, 172, 879, 130, 18], [727, 487, 726, 450, 12], [764, 448, 761, 413, 12], [793, 455, 792, 423, 12], [915, 418, 914, 387, 6], [654, 173, 644, 127, 18],
  [1000, 1060, 1002, 1035, 26], [1017, 1080, 1018, 1048, 14], [1087, 420, 1092, 405, 18], [1065, 460, 1075, 420, 34], [1110, 455, 1114, 400, 18],
];
const yellowColumns = [
  [1543, 125, 1548, 110, 4], [1537, 163, 1541, 153, 2], [1635, 144, 1640, 113, 26], [1660, 195, 1667, 175, 12], [1673, 187, 1682, 163, 16], [1668, 256, 1673, 225, 30], [1160, 489, 1162, 469, 3],
  [1185, 580, 1187, 563, 3], [1163, 607, 1164, 593, 2], [1302, 642, 1303, 628, 3], [1252, 685, 1253, 671, 3], [1253, 772, 1254, 757, 8], [1328, 653, 1331, 638, 3], [1416, 680, 1418, 668, 3], [1438, 762, 1443, 743, 4],
  [1438, 712, 1442, 698, 4], [1450, 683, 1457, 662, 3], [1465, 703, 1470, 688, 5], [1471, 787, 1474, 773, 4], [1493, 843, 1500, 810, 8], [1517, 842, 1523, 817, 20], [1587, 838, 1595, 818, 8], [1601, 873, 1605, 838, 36],
  [1497, 863, 1498, 843, 10], [1463, 862, 1468, 847, 5], [1227, 862, 1228, 843, 12], [1249, 858, 1252, 842, 3], [1280, 855, 1283, 846, 3], [1292, 868, 1295, 857, 7], [1219, 893, 1221, 885, 3], [1235, 893, 1236, 877, 12], [1232, 913, 1233, 897, 14],
  [1237, 955, 1237, 940, 12], [1265, 952, 1267, 940, 5], [1250, 985, 1251, 968, 14], [1322, 888, 1323, 867, 18], [1487, 982, 1498, 965, 22], [1500, 968, 1510, 948, 24], [1547, 1045, 1549, 1026, 20], [1608, 1047, 1620, 1026, 12],
  [1620, 602, 1624, 592, 15], [1638, 624, 1642, 599, 26], [1631, 595, 1640, 580, 5], [1652, 737, 1660, 723, 5], [1698, 738, 1710, 721, 5], [1775, 833, 1787, 821, 5], [1805, 835, 1817, 823, 3], [1890, 836, 1906, 823, 5],
  [1648, 919, 1659, 909, 4], [1673, 959, 1685, 949, 4], [1687, 969, 1696, 950, 8], [1848, 599, 1862, 580, 7], [1842, 328, 1848, 305, 18], [1742, 345, 1753, 323, 4], [1706, 350, 1711, 340, 3], [1659, 362, 1663, 347, 2], [1750, 358, 1756, 345, 3],
  [1783, 415, 1787, 406, 2], [1801, 415, 1807, 406, 3], [1688, 452, 1697, 435, 5], [1680, 457, 1688, 440, 4], [1760, 483, 1780, 450, 8], [1780, 470, 1788, 457, 16], [1765, 490, 1773, 480, 10], [1777, 503, 1795, 480, 24], [1797, 478, 1805, 462, 3], [1712, 497, 1722, 483, 5],
  [1627, 1078, 1633, 1068, 4], [1644, 1078, 1650, 1068, 4], [1688, 1080, 1698, 1068, 8], [1570, 1080, 1580, 1068, 3], [1855, 295, 1862, 285, 3], [1905, 285, 1915, 270, 3], [1905, 300, 1920, 278, 10],
  // dimmed under the price panel
  [593, 192, 588, 170, 4], [394, 349, 385, 313, 5], [414, 348, 406, 318, 5], [672, 167, 667, 137, 5],
];
const tealColumns = [
  [1137, 110, 1140, 80, 3], [1190, 309, 1197, 273, 30], [1202, 355, 1216, 312, 45], [1204, 380, 1207, 344, 15], [1159, 444, 1174, 394, 30], [1182, 384, 1188, 355, 12], [1193, 434, 1197, 376, 14], [1141, 430, 1149, 373, 50],
  [1197, 501, 1211, 430, 18], [1216, 551, 1224, 462, 22], [1204, 544, 1213, 473, 14], [1146, 541, 1149, 500, 5], [1252, 630, 1258, 558, 58], [1268, 541, 1274, 498, 24], [1282, 573, 1288, 516, 28], [1309, 601, 1316, 559, 28],
  [1359, 594, 1370, 548, 24], [1395, 580, 1406, 523, 28], [1400, 647, 1407, 607, 12], [1328, 757, 1337, 690, 38], [1350, 755, 1355, 688, 40], [1368, 750, 1372, 695, 32], [1492, 690, 1505, 657, 10], [1540, 840, 1552, 800, 26],
  [1485, 930, 1490, 860, 58], [1458, 900, 1463, 867, 28], [1333, 870, 1338, 843, 6], [1542, 930, 1558, 900, 5], [1553, 922, 1565, 898, 4], [1525, 965, 1542, 938, 7], [1600, 642, 1617, 605, 25], [1528, 726, 1542, 692, 20], [1672, 700, 1689, 659, 30],
  [1776, 649, 1795, 623, 6], [1863, 616, 1892, 576, 4], [1763, 742, 1781, 712, 4], [1725, 790, 1746, 745, 40], [1746, 812, 1767, 785, 12], [1618, 824, 1638, 790, 5], [1647, 880, 1677, 828, 12], [1717, 850, 1740, 816, 5], [1760, 826, 1774, 809, 12],
  [1887, 754, 1920, 712, 4], [1693, 187, 1708, 150, 26], [1808, 225, 1827, 178, 30], [1830, 240, 1853, 185, 42], [1858, 232, 1882, 185, 34], [1883, 248, 1908, 198, 34], [1838, 407, 1858, 375, 6], [1853, 470, 1880, 435, 34], [1852, 515, 1877, 470, 38],
  [1890, 370, 1907, 340, 3], [1700, 859, 1726, 823, 10], [1800, 774, 1841, 719, 3],
  // dimmed under the price panel
  [361, 233, 346, 187, 14], [402, 233, 390, 180, 24], [392, 263, 383, 220, 8], [465, 217, 450, 168, 20], [428, 157, 419, 113, 20], [438, 130, 426, 93, 22], [489, 213, 477, 163, 14], [511, 237, 501, 190, 10], [538, 203, 525, 163, 7], [559, 212, 551, 170, 12],
  [575, 173, 566, 130, 16], [385, 313, 380, 270, 20], [411, 312, 397, 267, 6], [533, 343, 523, 280, 38], [559, 323, 547, 248, 20], [579, 330, 557, 263, 22], [605, 383, 591, 327, 22], [530, 477, 520, 433, 16], [559, 452, 552, 420, 10],
  [976, 423, 976, 350, 60], [779, 332, 775, 280, 6], [790, 557, 787, 500, 12], [905, 500, 903, 420, 10], [872, 543, 870, 507, 10],
];
const blueColumns = [
  [1300, 187, 1312, 127, 6], [1319, 193, 1332, 130, 6], [1149, 559, 1153, 512, 4], [1156, 550, 1161, 501, 6], [1215, 548, 1231, 473, 6], [1309, 566, 1317, 530, 3], [1420, 667, 1445, 607, 5], [1327, 860, 1332, 842, 8], [1347, 888, 1360, 850, 4],
  [1618, 659, 1633, 628, 3], [1640, 690, 1663, 643, 20], [1585, 755, 1606, 719, 6], [1587, 772, 1606, 737, 3], [1862, 680, 1889, 645, 2], [1802, 718, 1835, 669, 4], [1772, 749, 1797, 706, 4], [1733, 799, 1763, 757, 4], [1760, 788, 1790, 747, 28],
  [1866, 766, 1908, 716, 6], [1877, 802, 1917, 761, 28], [1730, 868, 1760, 826, 22], [1677, 916, 1726, 861, 28], [1773, 523, 1793, 503, 20], [722, 378, 714, 320, 14], [741, 395, 736, 342, 12], [862, 513, 860, 430, 12], [945, 500, 940, 420, 14], [960, 500, 955, 430, 8],
];
const purpleColumns = [
  [1162, 137, 1168, 80, 3], [1238, 351, 1249, 276, 6], [1134, 394, 1138, 362, 3], [1211, 498, 1229, 376, 3], [1220, 498, 1236, 391, 4], [1227, 494, 1240, 419, 3], [1206, 505, 1216, 460, 4], [1299, 516, 1315, 448, 3], [1377, 566, 1384, 534, 4], [1388, 569, 1398, 540, 4],
  [1375, 677, 1392, 627, 3], [1413, 647, 1432, 583, 6], [1795, 652, 1815, 619, 3], [1787, 730, 1823, 671, 10], [1750, 745, 1776, 700, 3], [1638, 836, 1670, 787, 5], [1810, 774, 1841, 719, 6], [1892, 417, 1917, 373, 3], [1860, 433, 1887, 397, 3],
  [843, 507, 836, 430, 12], [885, 500, 880, 400, 8], [1000, 505, 998, 415, 8], [906, 570, 904, 530, 14],
];

// roughness of wide columns' roof line and shade of their stripes (drawing style)
const roofNotches = [0, -1.5, 1, -2.5, 0.5, -1, 2, -2, 0, 1.5, -3, 1, -0.5, -2, 1.5];
const stripeShades = [1, 0.95, 1.02, 0.97, 0.93, 1.01, 0.96, 1.04, 0.94, 0.99];

const rowsToPoints = (rows: any[]) => rows.flatMap(([v, years]) => years.map((yr: number) => ({ x: 2000 + yr, y: v })));
const pairsToPoints = (pairs: number[][]) => pairs.map(([x, y]) => ({ x, y }));

const rampStops: Record<string, string[]> = {
  white: ["#ffffff", "#ffffff", "#ffffff"],
  lime: ["#eef56e", "#bcf27c", "#86e89c"],
  yellow: ["#fff35c", "#f6f660", "#daf46c"],
  teal: ["#bcef7e", "#72e2a6", "#40d2c0"],
  blue: ["#48d0b8", "#3ca6bc", "#5255a6"],
  purple: ["#4c1a8c", "#55188c", "#5a1690"],
};

function shade(hex: string, k: number) {
  const n = parseInt(hex.slice(1), 16);
  const c = [n >> 16, (n >> 8) & 255, n & 255].map((v) => Math.min(255, Math.round(v * k)));
  return `rgb(${c[0]},${c[1]},${c[2]})`;
}

function columnDatasets(name: string, columns: number[][]) {
  const line = (pts: number[], width: number, cap: string, k: number, g: number[], order: number) => ({
    type: "line" as const,
    data: [{ x: pts[0], y: pts[1] }, { x: pts[2], y: pts[3] }],
    borderWidth: width,
    borderCapStyle: cap,
    pointRadius: 0,
    order,
    borderColor: (c: any) => {
      const { chart } = c;
      const [a, b, d] = rampStops[name];
      const sx = chart.scales.x;
      const sy = chart.scales.y;
      const coords = [sx?.getPixelForValue(g[0]), sy?.getPixelForValue(g[1]), sx?.getPixelForValue(g[2]), sy?.getPixelForValue(g[3])];
      if (!coords.every(Number.isFinite)) return b;
      const grad = chart.ctx.createLinearGradient(coords[0], coords[1], coords[2], coords[3]);
      grad.addColorStop(0, shade(a, k));
      grad.addColorStop(0.5, shade(b, k));
      grad.addColorStop(1, shade(d, k));
      return grad;
    },
  });
  return columns.flatMap(([x0, y0, x1, y1, w]) => {
    const order = 3000 - y0;
    if (w < 10) return [line([x0, y0, x1, y1], w, "round", 1, [x0, y0, x1, y1], order)];
    const n = Math.max(3, Math.round(w / 3));
    const len = Math.hypot(x1 - x0, y1 - y0);
    const bulge = Math.min(w * 0.3, len * 0.3);
    const strips = [];
    for (let i = 0; i < n; i++) {
      const u = -1 + (2 * i + 1) / n;
      const dx = (u * w) / 2;
      const inset = (1 - Math.sqrt(1 - u * u)) * bulge;
      const notch = roofNotches[(i + Math.round(x0)) % roofNotches.length] * Math.min(1, w / 24);
      const k = stripeShades[(i + Math.round(y0)) % stripeShades.length];
      strips.push(line([x0 + dx, y0 - inset, x1 + dx, y1 + inset + notch], w / n + 0.7, "butt", name === "white" ? 1 : k, [x0, y0, x1, y1], order));
    }
    // rounded core under the stripes closes the outline of the column
    const ax = (x1 - x0) / (len || 1);
    const ay = (y1 - y0) / (len || 1);
    const r = Math.min(w * 0.42, len * 0.45);
    const core = line([x0 + ax * r, y0 + ay * r, x1 - ax * r, y1 - ay * r], w * 0.88, "round", 1, [x0, y0, x1, y1], order);
    return [...strips, core];
  });
}

function linesDataset(lines: number[][][], color: string, width: number, order: number) {
  const data: any[] = [];
  lines.forEach((l) => {
    l.forEach(([x, y]) => data.push({ x, y }));
    data.push({ x: NaN, y: NaN });
  });
  return { type: "line" as const, data, borderColor: color, borderWidth: width, pointRadius: 0, spanGaps: false, order, borderJoinStyle: "round" as const };
}

const panelDim = {
  id: "panelDim",
  beforeDatasetsDraw(chart: any) {
    const { ctx, chartArea: a } = chart;
    ctx.save();
    ctx.fillStyle = "rgba(0,0,0,0.9)";
    ctx.fillRect(a.left, a.top, a.right - a.left, a.bottom - a.top);
    ctx.strokeStyle = "#d8d8d8";
    ctx.lineWidth = 1.5;
    ctx.beginPath();
    ctx.moveTo(a.right, a.top);
    ctx.lineTo(a.right, a.bottom);
    ctx.stroke();
    ctx.restore();
  },
};

export default function App() {
  const mapRef = useRef<HTMLCanvasElement>(null);
  const priceRef = useRef<HTMLCanvasElement>(null);

  useEffect(() => {
    const map = new Chart(mapRef.current!, {
      type: "line",
      data: {
        datasets: [
          linesDataset(streets, "rgba(255,255,255,0.3)", 1, 9000),
          linesDataset(mainRoads, "#d8d8d8", 2.4, 8000),
          linesDataset(boldRoads, "#ffffff", 4, 8000),
          linesDataset([studyArea], "#808080", 4, 4000),
          ...columnDatasets("lime", limeColumns),
          ...columnDatasets("yellow", yellowColumns),
          ...columnDatasets("teal", tealColumns),
          ...columnDatasets("blue", blueColumns),
          ...columnDatasets("purple", purpleColumns),
          ...columnDatasets("white", whiteColumns),
        ] as any,
      },
      options: {
        responsive: false,
        animation: false,
        devicePixelRatio: 1,
        events: [],
        layout: { padding: 0 },
        plugins: { legend: { display: false }, tooltip: { enabled: false } },
        scales: {
          x: { type: "linear", display: false, min: 0, max: 1920 },
          y: { type: "linear", display: false, min: 0, max: 1080, reverse: true },
        },
      },
    });

    const ring = (data: any[], color: string, order: number, r = 3.5) => ({
      type: "scatter" as const,
      data,
      borderColor: color,
      backgroundColor: "rgba(0,0,0,0)",
      pointRadius: r,
      borderWidth: 1.2,
      order,
    });

    const price = new Chart(priceRef.current!, {
      type: "scatter",
      data: {
        datasets: [
          {
            type: "line" as const,
            data: [{ x: currentMonth, y: 0 }, { x: currentMonth, y: 973 }],
            borderColor: "rgba(255,232,60,0.55)",
            borderWidth: 4,
            pointRadius: 0,
            order: 1,
          },
          ring(pairsToPoints(magentaRings), "#c4249a", 2),
          ring(pairsToPoints(oliveRings), "#aa9c3c", 3),
          ring(pairsToPoints(amberRings), "#c8861c", 4),
          ring(pairsToPoints(topRings), "#e65a38", 5),
          ring(rowsToPoints(orangeRows), "#e65a38", 5),
          ring(rowsToPoints(pinkRows), "#d0405a", 5),
          ring(rowsToPoints(bandRows), "#ee6a3e", 6),
          {
            type: "scatter" as const,
            data: rowsToPoints(bandGaps),
            backgroundColor: "#1c0c06",
            borderColor: "#1c0c06",
            pointRadius: 2.6,
            borderWidth: 0,
            order: 8,
          },
          {
            type: "bar" as const,
            data: denseBand.map(([x, lo, hi]) => ({ x, y: [lo, hi] })),
            backgroundColor: "#c84a28",
            barThickness: 11.8,
            grouped: false,
            order: 9,
          },
        ] as any,
      },
      options: {
        responsive: false,
        animation: false,
        devicePixelRatio: 1,
        events: [],
        layout: { padding: { left: 60, top: 34, right: 790, bottom: 0 } },
        plugins: { legend: { display: false }, tooltip: { enabled: false } },
        scales: {
          x: {
            type: "linear",
            offset: false,
            min: 2010.912,
            max: 2020.331,
            afterFit: (s: any) => { s.height = 46; },
            afterBuildTicks: (s: any) => { s.ticks = xTickYears.map((value) => ({ value })); },
            grid: { display: false, offset: false, drawTicks: true, tickLength: 5, tickColor: "#999" },
            border: { color: "#aaaaaa", width: 2 },
            ticks: {
              color: "#ffffff",
              maxRotation: 0,
              autoSkip: false,
              padding: 4,
              font: { family: FONT, size: 17.3, weight: "700", lineHeight: "10px" },
              callback: (v: any) => {
                const i = xTickYears.indexOf(Number(v));
                return i % 2 === 0 ? ["", xTickLabels[i]] : xTickLabels[i];
              },
            },
          },
          y: {
            type: "linear",
            min: 0,
            max: 973,
            afterFit: (s: any) => { s.width = 0; },
            afterBuildTicks: (s: any) => { s.ticks = yTickValues.map((value) => ({ value })); },
            grid: { color: "rgba(255,255,255,0.33)", lineWidth: 1, drawTicks: false, z: 1 },
            border: { color: "#aaaaaa", width: 2, z: 2 },
            ticks: {
              mirror: true,
              padding: 10,
              labelOffset: -12,
              z: 3,
              color: "#ffffff",
              font: { family: FONT, size: 43, weight: "700" },
              callback: (v: any) => (Number(v) === 0 ? "0" : `${v}만원`),
            },
          },
        },
      },
      plugins: [panelDim],
    } as any);

    return () => {
      map.destroy();
      price.destroy();
    };
  }, []);

  const layer: React.CSSProperties = { position: "absolute", left: 0, top: 0, width: 1920, height: 1080, display: "block" };
  return (
    <div style={{ position: "fixed", left: 0, top: 0, width: 1920, height: 1080, background: "#000", overflow: "hidden" }}>
      <canvas ref={mapRef} width={1920} height={1080} style={layer} />
      <div
        style={{
          position: "absolute", left: 1336, top: 546, color: "#808080", fontFamily: FONT, fontWeight: 700, fontSize: 56,
          lineHeight: "70px", transform: "rotate(-8deg) skewX(14deg)", WebkitTextStroke: "1.5px #808080",
        }}
      >
        대전
      </div>
      <canvas ref={priceRef} width={1920} height={1080} style={layer} />
    </div>
  );
}
